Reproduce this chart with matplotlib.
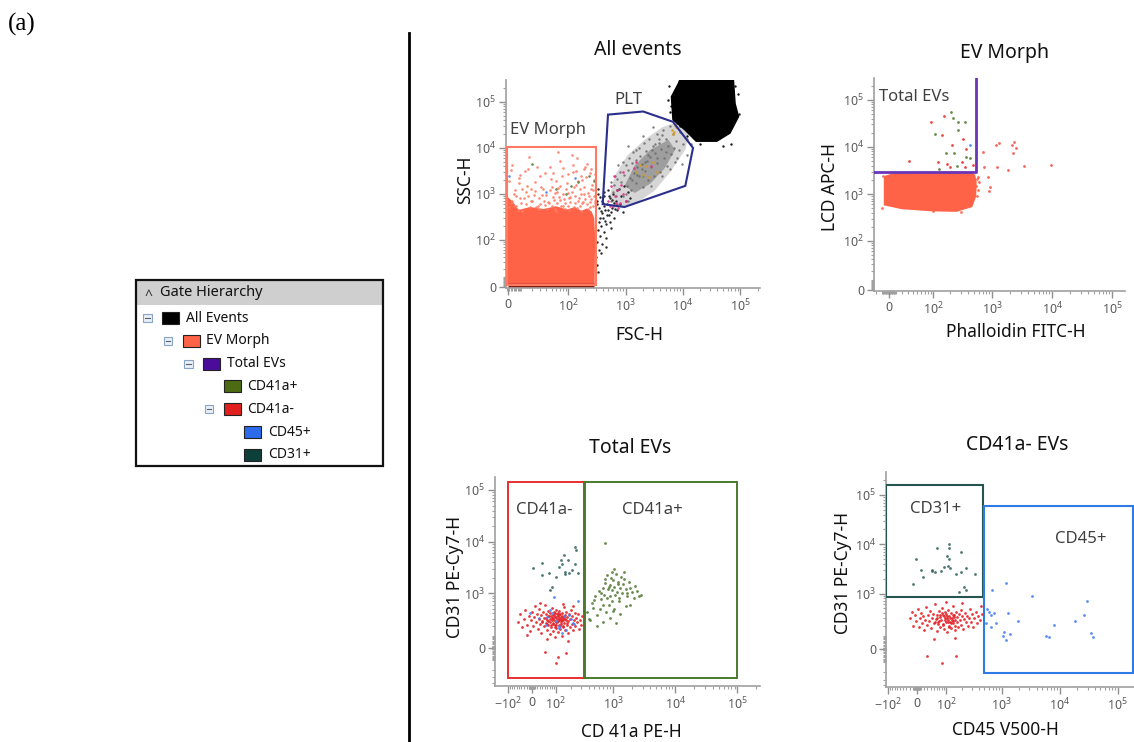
import numpy as np
import matplotlib
matplotlib.use('Agg')
import matplotlib.pyplot as plt
from matplotlib.patches import Rectangle, Polygon
from matplotlib.ticker import FixedLocator, NullFormatter

plt.rcParams['font.family'] = ['Noto Sans', 'DejaVu Sans']
plt.rcParams['mathtext.fontset'] = 'custom'
plt.rcParams['mathtext.rm'] = 'Noto Sans'

W, H = 1134, 742

# ---------------- gate hierarchy ----------------
gate_names = ['All Events', 'EV Morph', 'Total EVs', 'CD41a+', 'CD41a-', 'CD45+', 'CD31+']
gate_levels = [0, 1, 2, 3, 3, 4, 4]
gate_colors = ['#000000', '#FF6347', '#4B0C9C', '#4C6B12', '#E0201E', '#2C6BEA', '#0E403B']
gate_expand = [True, True, True, False, True, False, False]

# ---------------- All events (FSC-H vs SSC-H) ----------------
ev_morph_gate = (-1, 1.5, 310, 1.05e4)          # x0, y0, x1, y1
plt_gate = [(495, 5.3e4), (2030, 6.2e4), (6700, 3.7e4), (1.5e4, 1.0e4),
            (1.1e4, 1.5e3), (960, 520), (400, 600)]
ev_core = [(-1, 1.5), (290, 1.5), (295, 120), (285, 300), (255, 420), (210, 480), (170, 430),
           (130, 520), (95, 460), (60, 540), (35, 470), (18, 520), (8, 450), (3, 700), (-1, 900)]
ev_floor_x = [0, 285]
ev_floor_y = [1.5, 1.5]
ev_sparse = [(1, 1900), (3, 700), (5, 1200), (7, 450), (9, 2600), (12, 800), (15, 1500), (18, 520),
             (22, 950), (26, 3800), (30, 600), (35, 1300), (41, 480), (48, 2100), (55, 750), (63, 1100),
             (72, 5200), (82, 560), (95, 1700), (108, 850), (122, 3000), (140, 500), (160, 1250),
             (180, 680), (205, 2300), (230, 900), (260, 1600), (290, 620), (2, 3300), (4, 550), (6, 900),
             (8, 1700), (11, 420), (14, 1100), (17, 6200), (20, 700), (24, 1800), (28, 460), (33, 950),
             (38, 2800), (44, 640), (51, 1400), (59, 420), (67, 860), (77, 2400), (88, 470), (100, 1050),
             (115, 7200), (130, 620), (150, 1900), (170, 430), (192, 1000), (215, 4500), (245, 520),
             (275, 1200), (1, 520), (10, 640), (13, 3100), (19, 1250), (27, 540), (36, 700), (46, 3900),
             (57, 480), (70, 1500), (85, 760), (104, 440), (126, 1400), (155, 820), (185, 3400), (220, 460),
             (250, 780), (285, 2000), (65, 8200), (140, 6000), (240, 2900),
             (2, 650), (4, 1000), (6, 560), (9, 820), (11, 1300), (14, 600), (16, 900), (19, 700),
             (23, 1150), (25, 520), (29, 800), (32, 1450), (37, 580), (40, 950), (43, 680), (47, 1200),
             (50, 540), (54, 860), (58, 1050), (62, 620), (66, 1350), (71, 720), (75, 540), (80, 980),
             (86, 640), (91, 1250), (97, 560), (102, 800), (109, 680), (116, 1100), (124, 520), (132, 900),
             (138, 1600), (146, 700), (158, 560), (166, 1000), (175, 620), (188, 1400), (198, 760),
             (210, 600), (225, 1050), (238, 680), (252, 1300), (268, 560), (282, 900), (295, 700),
             (3, 4200), (8, 2200), (16, 3500), (30, 2400), (52, 2800), (80, 3600), (98, 2700), (135, 3200),
             (165, 2500), (200, 3800), (255, 3500), (290, 2700), (120, 4200), (60, 1900), (175, 2000)]
ev_green = [(60, 1300), (110, 1500), (150, 1800), (230, 2400), (280, 1900), (90, 1000), (20, 4500)]
ev_blue = [(1, 2500), (40, 1100), (130, 2200)]
tail_black = [(310, 40), (320, 90), (330, 160), (340, 60), (350, 250), (360, 120), (370, 420), (380, 200),
              (390, 80), (400, 650), (410, 300), (420, 150), (430, 900), (440, 450), (450, 220), (460, 110),
              (480, 600), (500, 1200), (520, 350), (540, 800), (560, 180), (580, 500), (600, 1000),
              (640, 300), (680, 700), (720, 450), (760, 1300), (800, 600), (850, 900), (900, 400),
              (950, 1500), (1000, 700), (1100, 1100), (1200, 800), (315, 700), (335, 1000), (345, 500),
              (365, 300), (385, 700), (425, 550), (470, 350), (530, 250), (620, 650), (700, 1200),
              (320, 25), (335, 15), (380, 50), (450, 70), (330, 1300), (355, 850), (395, 380), (415, 1100),
              (435, 260), (490, 450), (510, 900), (550, 400), (590, 750), (660, 480), (320, 600)]
plt_cloud = [(530, 900), (650, 2500), (1080, 6900), (2150, 1.5e4), (4300, 2.8e4), (8900, 3.8e4),
             (1.3e4, 2.3e4), (1.1e4, 9100), (5900, 2900), (3200, 1170), (1450, 600), (650, 490)]
plt_core = [(960, 1500), (1450, 4200), (2700, 9100), (5600, 1.5e4), (7300, 9100), (4800, 3600),
            (2700, 1670), (1450, 1050)]
plt_gray = [(560, 700), (600, 1100), (640, 1600), (680, 900), (720, 2100), (760, 1300), (800, 3000),
            (850, 1800), (900, 900), (950, 2600), (1000, 4200), (1050, 1500), (1100, 3300), (1150, 6000),
            (1200, 2200), (1250, 1200), (1300, 4800), (1350, 8000), (1400, 2900), (1500, 1700),
            (1550, 5500), (1600, 3800), (1700, 10000), (1750, 2400), (1800, 6800), (1900, 4400),
            (2000, 1400), (2100, 12500), (2200, 3200), (2300, 8500), (2400, 5200), (2500, 2000),
            (2600, 16000), (2700, 6500), (2800, 3800), (3000, 11000), (3100, 2500), (3300, 7800),
            (3500, 20000), (3600, 4600), (3800, 13000), (4000, 3000), (4200, 9500), (4500, 25000),
            (4700, 6000), (5000, 16000), (5300, 4000), (5600, 11000), (6000, 30000), (6300, 7500),
            (6800, 20000), (7200, 5000), (7600, 14000), (8000, 35000), (8500, 9000), (9000, 22000),
            (10000, 12000), (11000, 28000), (12000, 16000), (1000, 1000), (1300, 2000), (1600, 2600),
            (1900, 3500), (2200, 5000), (2500, 7000), (2900, 9000), (3300, 12000), (3800, 16000),
            (4400, 19000), (5000, 8000), (1100, 700), (700, 600), (900, 5000), (1500, 9000),
            (2000, 18000), (3000, 28000), (6000, 3500), (8000, 6000), (2800, 1500), (4300, 2400),
            (650, 2500), (1100, 11000), (7000, 10000), (3500, 6000), (2000, 2500), (14000, 12000),
            (12000, 7000), (9500, 4500), (550, 1800), (750, 4200)]
plt_pink = [(500, 700), (600, 550), (650, 900), (700, 1200), (560, 1500), (800, 650), (900, 1000),
            (750, 500), (620, 2500), (1000, 700), (1500, 5000), (2800, 4000), (900, 3000), (1400, 3700),
            (540, 560), (680, 640), (820, 1600)]
plt_orange = [(1500, 3000), (2000, 2600), (2300, 4000), (2600, 2300), (1800, 4200), (3500, 3000),
              (6500, 2.5e4), (7000, 2.2e4), (7500, 2.8e4), (6800, 2.0e4), (3000, 5000), (7200, 3.2e4)]
rbc_blob = [(8700, 2.9e5), (7.6e4, 2.9e5), (8.1e4, 9.2e4), (9.3e4, 4.8e4), (6.6e4, 2.1e4),
            (3.9e4, 1.4e4), (1.7e4, 1.4e4), (1.07e4, 2.5e4), (6700, 4.1e4), (6300, 1.3e5), (8300, 2.5e5)]
rbc_edge = [(6000, 6e4), (5500, 1.1e5), (9.5e4, 5.5e4), (9e4, 1.5e5), (7e4, 1.2e4), (5e4, 1.1e4),
            (2e4, 1.2e4), (1.2e4, 1.8e4), (9000, 3e4), (8e4, 2.2e5), (5800, 2.2e5), (6200, 8e4)]

# ---------------- EV Morph (Phalloidin vs LCD) ----------------
total_ev_gate = [(-30, 2900), (540, 2900), (540, 3e5)]
ev_block = [(-6, 600), (-6, 2300), (5, 2600), (60, 2750), (200, 2850), (400, 2800), (500, 2500),
            (530, 1800), (520, 900), (450, 550), (250, 440), (100, 450), (20, 500)]
block_edge = [(540, 1500), (560, 2100), (555, 900), (590, 1200), (-10, 500), (-8, 2400), (300, 420),
              (100, 430), (450, 2900), (20, 2700)]
tev_red = [(92, 33000), (158, 45000), (145, 18000), (210, 11000), (370, 9100), (325, 15000), (33, 5000),
           (120, 4800), (175, 4400), (310, 4800), (200, 3700), (346, 3700), (470, 4200)]
tev_green = [(203, 54000), (219, 42000), (264, 33000), (346, 33000), (106, 19000), (264, 23000),
             (165, 7400), (233, 7400), (370, 6100), (420, 5800), (255, 4000), (128, 3400)]
tev_blue = [(420, 11000), (155, 2900)]
phal_red = [(690, 7800), (1180, 11000), (1290, 12000), (2140, 11000), (2300, 13000), (2450, 9700),
            (2200, 7400), (730, 3700), (1200, 3700), (1850, 3300), (3400, 3900), (9600, 4200),
            (570, 2300), (910, 1440), (880, 1180), (610, 1780), (860, 2300)]

# ---------------- Total EVs (CD41a vs CD31) ----------------
cd41neg_gate = (-100, -310, 345, 1.4e5)
cd41pos_gate = (330, -310, 1e5, 1.4e5)
red_cd41 = [(-55, 250), (-45, 380), (-38, 190), (-30, 300), (-25, 460), (-18, 220), (-12, 340), (-8, 150),
            (-4, 280), (0, 420), (4, 200), (8, 330), (12, 560), (15, 250), (18, 390), (22, 170), (25, 300),
            (28, 480), (30, 230), (33, 360), (36, 130), (39, 270), (42, 420), (45, 200), (48, 320),
            (50, 600), (53, 240), (55, 380), (58, 160), (60, 290), (62, 450), (65, 210), (67, 340),
            (70, 120), (72, 260), (74, 400), (77, 190), (79, 310), (82, 520), (84, 230), (86, 360),
            (88, 150), (90, 280), (92, 430), (95, 210), (97, 330), (99, 250), (101, 470), (103, 180),
            (105, 300), (107, 390), (110, 140), (112, 270), (114, 350), (117, 220), (119, 440), (121, 300),
            (124, 170), (126, 380), (128, 250), (131, 330), (133, 100), (136, 280), (138, 410), (141, 200),
            (144, 320), (147, 540), (150, 240), (153, 360), (156, 160), (160, 290), (164, 420), (168, 210),
            (172, 330), (176, 130), (180, 270), (185, 390), (190, 190), (195, 300), (200, 470), (206, 230),
            (212, 350), (218, 160), (225, 280), (232, 410), (240, 200), (248, 320), (256, 250), (265, 380),
            (275, 170), (285, 290), (300, 220), (315, 340), (95, 90), (60, 70), (140, 620), (30, 640),
            (180, 60), (220, 560), (-20, 110), (110, -70), (100, -125), (160, -40), (50, -30),
            (70, 300), (85, 240), (100, 330), (115, 280), (130, 230), (90, 360), (75, 220), (120, 320),
            (105, 260), (80, 290), (135, 350), (95, 190), (110, 410), (65, 340), (125, 200), (145, 280),
            (55, 310), (150, 330), (40, 260), (170, 240), (88, 310), (102, 220), (118, 370), (76, 350),
            (132, 290), (58, 230), (142, 190), (96, 400), (64, 270), (154, 300)]
blue_cd41 = [(83, 400), (70, 470), (-7, 413), (100, 263), (118, 179), (54, 221), (183, 368), (218, 241),
             (230, 230), (160, 161), (91, 870), (263, 722), (135, 127), (27, 312), (200, 300), (150, 350),
             (120, 200), (60, 330)]
teal_cd41 = [(5, 3160), (38, 3900), (68, 2550), (118, 3250), (134, 3760), (153, 2370), (128, 4530),
             (235, 8100), (245, 6950), (158, 2620), (183, 2550), (240, 3760), (263, 2550), (70, 1190),
             (83, 1330), (180, 4500), (150, 5500), (100, 2100), (210, 2900), (40, 2300)]
green_cd41 = [(380, 420), (420, 280), (450, 650), (480, 520), (520, 900), (560, 360), (600, 1100),
              (620, 480), (650, 760), (680, 1300), (700, 580), (720, 950), (750, 1600), (780, 420),
              (800, 820), (820, 1200), (850, 600), (880, 1450), (900, 900), (920, 2000), (950, 700),
              (980, 1150), (1000, 1800), (1020, 500), (1050, 1350), (1080, 950), (1100, 2400),
              (1150, 1050), (1200, 1700), (1250, 800), (1300, 1300), (1350, 2100), (1400, 1000),
              (1450, 1550), (1500, 2600), (1600, 1200), (1700, 900), (1800, 1700), (1900, 1300),
              (2000, 1050), (2200, 800), (2400, 1100), (2600, 900), (2800, 950), (560, 200), (700, 260),
              (900, 320), (1100, 240), (1300, 380), (1600, 550), (750, 1900), (850, 1350), (950, 2600),
              (1050, 3000), (1250, 720), (1500, 1900), (1900, 600), (650, 1000), (800, 2300), (1000, 450),
              (1200, 1500), (400, 300), (500, 750), (2300, 1400), (1700, 1000), (740, 9300)]

# ---------------- CD41a- EVs (CD45 vs CD31) ----------------
cd31_gate = (-109, 850, 480, 1.6e5)
cd45_gate = (490, -211, 1.8e5, 5.9e4)
red_cd45 = [(-20, 300), (-15, 420), (-10, 200), (-6, 350), (-2, 260), (2, 480), (5, 180), (9, 310),
            (12, 400), (15, 230), (18, 340), (21, 150), (24, 280), (27, 520), (30, 210), (33, 360),
            (36, 260), (39, 440), (42, 170), (45, 300), (48, 380), (51, 230), (54, 620), (57, 290),
            (60, 140), (63, 350), (66, 250), (69, 430), (72, 190), (75, 320), (78, 270), (81, 500),
            (84, 220), (87, 360), (90, 160), (93, 300), (96, 410), (99, 240), (102, 340), (105, 130),
            (108, 280), (111, 460), (114, 200), (117, 330), (120, 250), (124, 390), (128, 170), (132, 300),
            (136, 560), (140, 230), (144, 350), (148, 270), (152, 150), (157, 420), (162, 240), (167, 320),
            (172, 190), (178, 370), (184, 280), (190, 450), (196, 210), (203, 330), (210, 160), (218, 290),
            (226, 400), (235, 240), (245, 340), (255, 200), (266, 310), (278, 480), (290, 250), (305, 370),
            (320, 190), (338, 300), (356, 420), (375, 230), (395, 340), (420, 270), (445, 560), (460, 380),
            (30, -50), (80, -110), (160, -50), (100, 660), (200, 640), (50, 70), (150, 80),
            (70, 260), (90, 330), (110, 240), (130, 280), (85, 210), (100, 380), (120, 310), (60, 300),
            (140, 260), (75, 350), (95, 270), (115, 190), (135, 360), (65, 220), (105, 300), (125, 230),
            (80, 400), (145, 320), (55, 250), (150, 200)]
teal_cd45 = [(-3, 5000), (16, 2150), (-12, 1540), (60, 8300), (45, 2930), (76, 2930), (107, 3700),
             (114, 10200), (117, 8300), (91, 3400), (122, 3300), (159, 2500), (194, 7100), (194, 2700),
             (237, 3300), (340, 2500), (182, 1080), (222, 1360), (237, 1170), (43, 3000), (54, 2700),
             (103, 5800), (11, 3000), (114, 5000)]
blue_cd45 = [(690, 1200), (1200, 1660), (565, 467), (740, 385), (600, 420), (650, 350), (660, 190),
             (810, 237), (1050, 94), (1110, 138), (1200, 67), (1290, 385), (1380, 116), (1950, 255),
             (3300, 892), (5800, 94), (6600, 88), (8000, 208), (18000, 255), (29000, 707), (26000, 352),
             (34000, 122), (37000, 88), (530, 237)]

C_ORANGE = '#FF6347'
C_SALMON = '#FF7D66'
C_RED = '#E3262B'
C_GREEN = '#567F3A'
C_BLUE = '#4A82F0'
C_TEAL = '#3A6A64'


def logicle(w):
    k = np.log(10)
    return (lambda v: np.arcsinh(np.asarray(v, float) / (2 * w)) / k,
            lambda u: 2 * w * np.sinh(np.asarray(u, float) * k))


def tick_label(v):
    if v == 0:
        return '0'
    e = int(round(np.log10(abs(v))))
    return r'$\mathregular{%s10^{%d}}$' % ('-' if v < 0 else '', e)


def minor_ticks(lo, hi, majors):
    vals = [s * m * 10 ** k for k in range(0, 6) for m in range(1, 10) for s in (1, -1)]
    return sorted(v for v in vals if lo < v < hi and v not in majors)


def setup(ax, wx, wy, xlim, ylim, xmaj, ymaj):
    ax.set_xscale('function', functions=logicle(wx))
    ax.set_yscale('function', functions=logicle(wy))
    ax.set_xlim(*xlim)
    ax.set_ylim(*ylim)
    ax.set_xticks(xmaj)
    ax.set_xticklabels([tick_label(v) for v in xmaj])
    ax.set_yticks(ymaj)
    ax.set_yticklabels([tick_label(v) for v in ymaj])
    ax.xaxis.set_minor_locator(FixedLocator(minor_ticks(*xlim, xmaj)))
    ax.yaxis.set_minor_locator(FixedLocator(minor_ticks(*ylim, ymaj)))
    ax.xaxis.set_minor_formatter(NullFormatter())
    ax.yaxis.set_minor_formatter(NullFormatter())
    for s in ('top', 'right'):
        ax.spines[s].set_visible(False)
    for s in ('left', 'bottom'):
        ax.spines[s].set_color('#a0a0a0')
        ax.spines[s].set_linewidth(1.2)
    ax.tick_params(which='major', direction='out', length=5, width=1, color='#909090',
                   labelcolor='#5a5a5a', labelsize=9, pad=2)
    ax.tick_params(which='minor', direction='out', length=2.5, width=0.8, color='#a0a0a0')
    ax.patch.set_alpha(0)


def dots(ax, pts, color, s=4, z=3, alpha=0.9):
    a = np.array(pts, float)
    ax.scatter(a[:, 0], a[:, 1], s=s, c=color, marker='o', linewidths=0, zorder=z, alpha=alpha)


def rect(ax, g, color, lw=1.4):
    x0, y0, x1, y1 = g
    ax.add_patch(Rectangle((x0, y0), x1 - x0, y1 - y0, fill=False, ec=color, lw=lw, zorder=5))


def px_axes(l, t, r, b):
    return fig.add_axes([l / W, 1 - b / H, (r - l) / W, (b - t) / H])


fig = plt.figure(figsize=(W / 100, H / 100), dpi=100)
ov = fig.add_axes([0, 0, 1, 1])
ov.set_xlim(0, W)
ov.set_ylim(H, 0)
ov.axis('off')

# left side: label, hierarchy, divider
ov.text(8, 24, '(a)', fontsize=18, family='Liberation Serif', va='center', ha='left')
ov.plot([409, 409], [33, H], color='black', lw=2)
ov.add_patch(Rectangle((137, 281), 245, 24, fc='#CFCFCF', ec='none'))
ov.add_patch(Rectangle((136, 280), 247, 186, fill=False, ec='#111111', lw=1.6))
ov.text(148, 296, '^', fontsize=10, va='center', ha='center', color='#333333')
ov.text(160, 293, 'Gate Hierarchy', fontsize=10.5, va='center', ha='left', color='#111111')
for i, (name, lev, col, exp) in enumerate(zip(gate_names, gate_levels, gate_colors, gate_expand)):
    y = 318 + i * 22.8
    dx = 20.5 * lev
    if exp:
        ov.add_patch(Rectangle((143 + dx, y - 4), 8.5, 8, fc='#E9EFF7', ec='#8AA4C6', lw=0.8))
        ov.plot([145 + dx, 149.5 + dx], [y, y], color='#556070', lw=0.8)
    ov.add_patch(Rectangle((162 + dx, y - 6), 17, 12, fc=col, ec='#222222', lw=0.8))
    ov.text(186 + dx, y, name, fontsize=10, va='center', ha='left', color='#111111')

# ---- panel A: All events
axA = px_axes(506, 80, 760, 288)
setup(axA, 9, 9.5, (-1.5, 2.2e5), (-1, 3e5), [0, 1e2, 1e3, 1e4, 1e5], [0, 1e2, 1e3, 1e4, 1e5])
axA.add_patch(Polygon(ev_core, closed=True, fc=C_ORANGE, ec='none', zorder=2))
dots(axA, ev_sparse, C_SALMON, s=3.5)
dots(axA, ev_green, C_GREEN, s=3.5)
dots(axA, ev_blue, C_BLUE, s=3.5)
axA.plot(ev_floor_x, ev_floor_y, color='#7A1A10', lw=2.5, zorder=3, solid_capstyle='butt')
dots(axA, tail_black, '#111111', s=3)
axA.add_patch(Polygon(plt_cloud, closed=True, fc='#8c8c8c', ec='none', alpha=0.35, zorder=2))
axA.add_patch(Polygon(plt_core, closed=True, fc='#7a7a7a', ec='none', alpha=0.6, zorder=2))
dots(axA, plt_gray, '#6e6e6e', s=3)
dots(axA, plt_pink, '#E8308F', s=3.5)
dots(axA, plt_orange, '#D89A20', s=3.5)
axA.add_patch(Polygon(rbc_blob, closed=True, fc='black', ec='black', lw=1, zorder=3))
dots(axA, rbc_edge, 'black', s=3)
rect(axA, ev_morph_gate, '#FF7A62', lw=1.5)
axA.add_patch(Polygon(plt_gate, closed=True, fill=False, ec='#2B2F8C', lw=1.5, zorder=5))
axA.text(0.016, 0.76, 'EV Morph', transform=axA.transAxes, fontsize=12, color='#404040', va='center')
axA.text(0.48, 0.905, 'PLT', transform=axA.transAxes, fontsize=12, color='#404040', va='center', ha='center')

# ---- panel B: EV Morph
axB = px_axes(874, 78, 1125, 291)
setup(axB, 19, 9, (-23, 1.64e5), (-0.5, 2.9e5), [0, 1e2, 1e3, 1e4, 1e5], [0, 1e2, 1e3, 1e4, 1e5])
axB.add_patch(Polygon(ev_block, closed=True, fc=C_ORANGE, ec=C_ORANGE, lw=1.5, zorder=2))
dots(axB, block_edge, C_ORANGE)
dots(axB, phal_red, '#F2564A')
dots(axB, tev_red, '#E8352F')
dots(axB, tev_green, C_GREEN)
dots(axB, tev_blue, C_BLUE)
gx, gy = zip(*total_ev_gate)
axB.plot(gx, gy, color='#6A35B8', lw=2, zorder=5)
axB.text(0.02, 0.91, 'Total EVs', transform=axB.transAxes, fontsize=12, color='#404040', va='center')

# ---- panel C: Total EVs
axC = px_axes(495, 477, 760, 686)
setup(axC, 50, 89, (-183, 2.3e5), (-464, 1.78e5), [-1e2, 0, 1e2, 1e3, 1e4, 1e5], [0, 1e3, 1e4, 1e5])
dots(axC, red_cd41, C_RED)
dots(axC, blue_cd41, C_BLUE)
dots(axC, teal_cd41, C_TEAL)
dots(axC, green_cd41, C_GREEN)
rect(axC, cd41neg_gate, '#E8302F', lw=1.4)
rect(axC, cd41pos_gate, '#4A7A2E', lw=1.4)
axC.text(0.08, 0.84, 'CD41a-', transform=axC.transAxes, fontsize=12, color='#404040', va='center')
axC.text(0.48, 0.84, 'CD41a+', transform=axC.transAxes, fontsize=12, color='#404040', va='center')

# ---- panel D: CD41a- EVs
axD = px_axes(886, 472, 1134, 687)
setup(axD, 35, 76, (-109, 1.89e5), (-433, 2.9e5), [-1e2, 0, 1e2, 1e3, 1e4, 1e5], [0, 1e3, 1e4, 1e5])
dots(axD, red_cd45, C_RED)
dots(axD, teal_cd45, C_TEAL)
dots(axD, blue_cd45, C_BLUE)
rect(axD, cd31_gate, '#24564F', lw=1.5)
rect(axD, cd45_gate, '#2F7BE5', lw=1.5)
axD.text(0.097, 0.83, 'CD31+', transform=axD.transAxes, fontsize=12, color='#404040', va='center')
axD.text(0.68, 0.69, 'CD45+', transform=axD.transAxes, fontsize=12, color='#404040', va='center')

# titles and axis labels
titles = [('All events', 638, 50), ('EV Morph', 1005, 53), ('Total EVs', 630, 448), ('CD41a- EVs', 1017, 445)]
for t, x, y in titles:
    ov.text(x, y, t, fontsize=14, ha='center', va='center', color='#111111')
xlabels = [('FSC-H', 639, 335), ('Phalloidin FITC-H', 1016, 332), ('CD 41a PE-H', 631, 732),
           ('CD45 V500-H', 1005, 730)]
for t, x, y in xlabels:
    ov.text(x, y, t, fontsize=12.5, ha='center', va='center', color='#111111')
ylabels = [('SSC-H', 465, 180), ('LCD APC-H', 830, 187), ('CD31 PE-Cy7-H', 455, 577),
           ('CD31 PE-Cy7-H', 843, 573)]
for t, x, y in ylabels:
    ov.text(x, y, t, fontsize=12.5, ha='center', va='center', rotation=90, color='#111111')

fig.savefig('out.png', dpi=100)
